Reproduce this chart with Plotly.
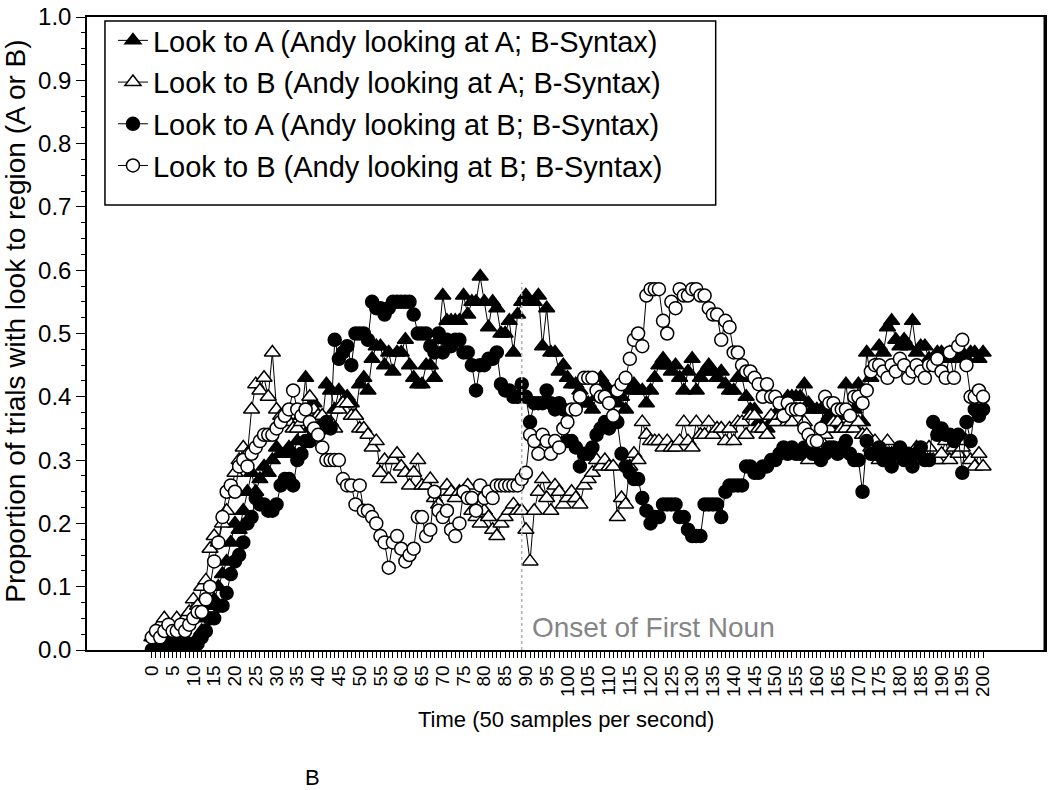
import plotly.graph_objects as go

# ---------------- data ----------------
time = list(range(0, 201))

look_a_andy_a = [
    0.0, 0.0, 0.01, 0.0, 0.01, 0.0, 0.01, 0.01, 0.0, 0.01,
    0.01, 0.02, 0.03, 0.05, 0.07, 0.08, 0.10, 0.12, 0.14, 0.17,
    0.20, 0.19, 0.22, 0.25, 0.28, 0.25, 0.27, 0.29, 0.28, 0.30,
    0.32, 0.31, 0.31, 0.32, 0.31, 0.33, 0.37, 0.43, 0.35, 0.39,
    0.37, 0.36, 0.42, 0.41, 0.38, 0.41, 0.39, 0.40, 0.39, 0.37,
    0.42, 0.43, 0.41, 0.46, 0.48, 0.48, 0.45, 0.47, 0.44, 0.47,
    0.47, 0.49, 0.45, 0.43, 0.42, 0.42, 0.45, 0.45, 0.43, 0.49,
    0.56, 0.52, 0.52, 0.52, 0.52, 0.56, 0.53, 0.55, 0.55, 0.59,
    0.55, 0.51, 0.55, 0.54, 0.50, 0.50, 0.52, 0.47, 0.53, 0.55,
    0.56, 0.55, 0.55, 0.56, 0.48, 0.54, 0.47, 0.47, 0.44, 0.45,
    0.43, 0.42, 0.42, 0.41, 0.39, 0.39, 0.38, 0.40, 0.43, 0.42,
    0.41, 0.40, 0.39, 0.40, 0.38, 0.41, 0.42, 0.41, 0.41, 0.39,
    0.41, 0.43, 0.45, 0.46, 0.45, 0.44, 0.45, 0.43, 0.41, 0.44,
    0.46, 0.41, 0.43, 0.44, 0.45, 0.44, 0.43, 0.44, 0.42, 0.41,
    0.41, 0.43, 0.43, 0.40, 0.38, 0.38, 0.36, 0.35, 0.35, 0.36,
    0.37, 0.38, 0.38, 0.40, 0.40, 0.40, 0.40, 0.42, 0.39, 0.38,
    0.38, 0.38, 0.36, 0.37, 0.35, 0.35, 0.37, 0.42, 0.37, 0.38,
    0.42, 0.36, 0.47, 0.43, 0.45, 0.48, 0.47, 0.51, 0.52, 0.49,
    0.48, 0.49, 0.48, 0.52, 0.47, 0.48, 0.48, 0.46, 0.46, 0.47,
    0.47, 0.46, 0.47, 0.47, 0.46, 0.47, 0.46, 0.47, 0.47, 0.46,
    0.47,
]

look_b_andy_a = [
    0.02, 0.03, 0.04, 0.05, 0.04, 0.04, 0.05, 0.04, 0.05, 0.06,
    0.08, 0.07, 0.10, 0.11, 0.16, 0.18, 0.17, 0.20, 0.22, 0.25,
    0.28, 0.30, 0.32, 0.31, 0.38, 0.42, 0.41, 0.43, 0.40, 0.47,
    0.38, 0.37, 0.37, 0.36, 0.35, 0.35, 0.36, 0.37, 0.40, 0.38,
    0.37, 0.37, 0.35, 0.36, 0.35, 0.38, 0.39, 0.39, 0.37, 0.37,
    0.35, 0.35, 0.34, 0.32, 0.33, 0.28, 0.30, 0.27, 0.30, 0.31,
    0.29, 0.28, 0.26, 0.28, 0.30, 0.26, 0.26, 0.27, 0.24, 0.23,
    0.25, 0.26, 0.25, 0.24, 0.25, 0.25, 0.26, 0.22, 0.21, 0.20,
    0.22, 0.21, 0.19, 0.18, 0.20, 0.21, 0.22, 0.23, 0.22, 0.22,
    0.19, 0.14, 0.22, 0.25, 0.27, 0.24, 0.22, 0.26, 0.25, 0.23,
    0.24, 0.25, 0.24, 0.23, 0.26, 0.27, 0.28, 0.30, 0.29, 0.30,
    0.29, 0.29, 0.21, 0.24, 0.23, 0.29, 0.31, 0.30, 0.36, 0.34,
    0.33, 0.33, 0.33, 0.32, 0.33, 0.32, 0.32, 0.33, 0.36, 0.33,
    0.32, 0.36, 0.34, 0.34, 0.36, 0.34, 0.35, 0.35, 0.33, 0.35,
    0.33, 0.36, 0.36, 0.34, 0.37, 0.37, 0.35, 0.35, 0.34, 0.37,
    0.36, 0.37, 0.37, 0.36, 0.36, 0.38, 0.38, 0.36, 0.30, 0.33,
    0.32, 0.33, 0.34, 0.35, 0.36, 0.36, 0.35, 0.35, 0.36, 0.35,
    0.36, 0.34, 0.34, 0.32, 0.33, 0.30, 0.31, 0.33, 0.31, 0.30,
    0.31, 0.30, 0.30, 0.31, 0.32, 0.31, 0.30, 0.32, 0.30, 0.30,
    0.31, 0.33, 0.30, 0.32, 0.31, 0.32, 0.33, 0.30, 0.29, 0.31,
    0.29,
]

look_a_andy_b = [
    0.0, 0.01, 0.0, 0.01, 0.01, 0.0, 0.01, 0.01, 0.01, 0.0,
    0.01, 0.01, 0.02, 0.03, 0.05, 0.05, 0.07, 0.07, 0.09, 0.12,
    0.14, 0.15, 0.17, 0.20, 0.21, 0.24, 0.23, 0.23, 0.22, 0.22,
    0.23, 0.26, 0.27, 0.27, 0.26, 0.30, 0.31, 0.33, 0.33, 0.34,
    0.35, 0.35, 0.36, 0.35, 0.49, 0.46, 0.47, 0.48, 0.45, 0.50,
    0.50, 0.50, 0.49, 0.55, 0.54, 0.54, 0.53, 0.54, 0.55, 0.55,
    0.55, 0.55, 0.55, 0.53, 0.50, 0.50, 0.50, 0.48, 0.47, 0.50,
    0.47, 0.49, 0.48, 0.49, 0.49, 0.47, 0.47, 0.45, 0.41, 0.45,
    0.45, 0.46, 0.46, 0.47, 0.42, 0.41, 0.41, 0.40, 0.40, 0.42,
    0.40, 0.36, 0.39, 0.39, 0.39, 0.41, 0.39, 0.38, 0.39, 0.38,
    0.33, 0.33, 0.32, 0.29, 0.31, 0.31, 0.32, 0.34, 0.35, 0.36,
    0.35, 0.36, 0.36, 0.31, 0.29, 0.28, 0.27, 0.27, 0.24, 0.22,
    0.20, 0.21, 0.21, 0.23, 0.23, 0.23, 0.23, 0.21, 0.21, 0.19,
    0.18, 0.18, 0.18, 0.23, 0.23, 0.23, 0.23, 0.21, 0.25, 0.26,
    0.26, 0.26, 0.26, 0.29, 0.29, 0.28, 0.28, 0.29, 0.29, 0.30,
    0.30, 0.31, 0.32, 0.31, 0.32, 0.31, 0.31, 0.32, 0.32, 0.31,
    0.31, 0.30, 0.31, 0.32, 0.32, 0.31, 0.32, 0.33, 0.31, 0.30,
    0.30, 0.25, 0.33, 0.31, 0.31, 0.32, 0.30, 0.31, 0.29, 0.31,
    0.32, 0.30, 0.31, 0.29, 0.31, 0.32, 0.30, 0.30, 0.36, 0.34,
    0.35, 0.34, 0.34, 0.33, 0.34, 0.28, 0.36, 0.33, 0.38, 0.37,
    0.38,
]

look_b_andy_b = [
    0.02, 0.03, 0.02, 0.03, 0.04, 0.03, 0.03, 0.04, 0.03, 0.04,
    0.05, 0.06, 0.06, 0.08, 0.10, 0.14, 0.17, 0.21, 0.25, 0.26,
    0.25, 0.29, 0.30, 0.29, 0.31, 0.32, 0.33, 0.34, 0.34, 0.34,
    0.35, 0.36, 0.37, 0.38, 0.41, 0.38, 0.37, 0.38, 0.36, 0.35,
    0.34, 0.32, 0.30, 0.30, 0.30, 0.30, 0.27, 0.26, 0.26, 0.23,
    0.26, 0.22, 0.22, 0.21, 0.20, 0.18, 0.17, 0.13, 0.17, 0.18,
    0.16, 0.14, 0.15, 0.16, 0.21, 0.21, 0.18, 0.19, 0.25, 0.22,
    0.21, 0.22, 0.19, 0.18, 0.20, 0.25, 0.24, 0.24, 0.22, 0.26,
    0.24, 0.25, 0.24, 0.26, 0.26, 0.26, 0.26, 0.26, 0.26, 0.27,
    0.28, 0.34, 0.33, 0.31, 0.34, 0.33, 0.31, 0.33, 0.32, 0.35,
    0.36, 0.38, 0.38, 0.40, 0.43, 0.43, 0.43, 0.41, 0.40, 0.40,
    0.39, 0.37, 0.41, 0.42, 0.43, 0.46, 0.49, 0.50, 0.48, 0.56,
    0.57, 0.57, 0.57, 0.52, 0.50, 0.55, 0.54, 0.57, 0.56, 0.56,
    0.57, 0.57, 0.56, 0.56, 0.54, 0.53, 0.53, 0.49, 0.52, 0.51,
    0.47, 0.47, 0.45, 0.44, 0.44, 0.43, 0.42, 0.40, 0.42, 0.40,
    0.40, 0.39, 0.37, 0.39, 0.38, 0.38, 0.38, 0.35, 0.34, 0.33,
    0.33, 0.35, 0.40, 0.39, 0.39, 0.38, 0.38, 0.38, 0.37, 0.40,
    0.40, 0.39, 0.41, 0.44, 0.45, 0.45, 0.44, 0.43, 0.45, 0.44,
    0.46, 0.45, 0.43, 0.44, 0.45, 0.44, 0.43, 0.45, 0.45, 0.46,
    0.44, 0.43, 0.47, 0.43, 0.48, 0.49, 0.45, 0.40, 0.40, 0.41,
    0.40,
]

series_names = [
    "Look to A (Andy looking at A; B-Syntax)",
    "Look to B (Andy looking at A; B-Syntax)",
    "Look to A (Andy looking at B; B-Syntax)",
    "Look to B (Andy looking at B; B-Syntax)",
]
series_values = [look_a_andy_a, look_b_andy_a, look_a_andy_b, look_b_andy_b]
series_symbols = ["triangle-up", "triangle-up", "circle", "circle"]
series_fills = ["black", "white", "black", "white"]
series_sizes = [14, 14, 13, 13]

x_tick_values = list(range(0, 201))
x_tick_labels = [str(v) if v % 5 == 0 else "" for v in x_tick_values]
y_tick_values = [i / 10 for i in range(0, 11)]
y_tick_labels = ["%.1f" % v for v in y_tick_values]

onset_time = 89
onset_label = "Onset of First Noun"

# ---------------- figure ----------------
FONT = "Liberation Sans, Arial, Helvetica, sans-serif"

fig = go.Figure()
for i, (name, vals, sym, fill, sz) in enumerate(
        zip(series_names, series_values, series_symbols, series_fills,
            series_sizes)):
    fig.add_trace(go.Scatter(
        x=time, y=vals, mode="lines+markers", name=name,
        legendgroup="g%d" % i,
        line=dict(color="black", width=1),
        marker=dict(symbol=sym, size=sz, color=fill,
                    line=dict(color="black", width=1.5)),
    ))

fig.update_layout(
    width=1050, height=790,
    margin=dict(l=87, r=3, t=10, b=140),
    plot_bgcolor="white", paper_bgcolor="white",
    font=dict(family=FONT, color="black"),
    showlegend=True,
    legend=dict(
        x=(113 - 87) / 960, y=(650 - 8) / 640, xanchor="left", yanchor="top",
        bgcolor="rgba(0,0,0,0)", borderwidth=0,
        font=dict(size=29, family=FONT, color="black"),
        tracegroupgap=1,
    ),
    xaxis=dict(
        range=[-15.6, 214.9],
        tickmode="array", tickvals=x_tick_values, ticktext=x_tick_labels,
        tickangle=-90, tickfont=dict(size=19, family=FONT, color="black"),
        ticks="outside", ticklen=6, tickwidth=1, tickcolor="black",
        showline=True, linecolor="black", linewidth=1.5, mirror=True,
        showgrid=False, zeroline=False, ticklabeloverflow="allow",
    ),
    yaxis=dict(
        range=[0, 1],
        tickmode="array", tickvals=y_tick_values, ticktext=y_tick_labels,
        tickfont=dict(size=24, family=FONT, color="black"),
        ticks="outside", ticklen=9, tickwidth=1.2, tickcolor="black",
        minor=dict(tickmode="linear", tick0=0, dtick=0.025, ticks="outside",
                   ticklen=4, tickwidth=1, tickcolor="black", showgrid=False),
        showline=True, linecolor="black", linewidth=1.5, mirror=True,
        showgrid=False, zeroline=False, ticklabeloverflow="allow",
    ),
)

# legend frame
fig.add_shape(type="rect", xref="paper", yref="paper",
              x0=(105 - 87) / 960, x1=(717 - 87) / 960,
              y0=(650 - 200) / 640, y1=(650 - 14) / 640,
              line=dict(color="black", width=1.5), layer="above")
# thicker right frame
fig.add_shape(type="line", xref="paper", yref="paper", x0=1, x1=1, y0=0, y1=1,
              line=dict(color="black", width=3))
# onset marker line
fig.add_shape(type="line", xref="x", yref="y", x0=onset_time, x1=onset_time,
              y0=0, y1=0.58, line=dict(color="#b0b0b0", width=1.5, dash="dot"),
              layer="above")

fig.add_annotation(x=onset_time + 2, y=0.035, xref="x", yref="y",
                   text=onset_label, showarrow=False, xanchor="left",
                   yanchor="middle",
                   font=dict(size=28, family=FONT, color="#858585"))

# axis titles
fig.add_annotation(x=0.5, y=(650 - 720) / 640, xref="paper", yref="paper",
                   text="Time (50 samples per second)", showarrow=False,
                   xanchor="center", yanchor="middle",
                   font=dict(size=22, family=FONT, color="black"))
fig.add_annotation(x=(15 - 87) / 960, y=(650 - 318) / 640, xref="paper",
                   yref="paper",
                   text="Proportion of trials with look to region (A or B)",
                   textangle=-90, showarrow=False,
                   xanchor="center", yanchor="middle",
                   font=dict(size=28, family=FONT, color="black"))
fig.add_annotation(x=(313 - 87) / 960, y=(650 - 779) / 640, xref="paper",
                   yref="paper", text="B", showarrow=False,
                   xanchor="center", yanchor="middle",
                   font=dict(size=22, family=FONT, color="black"))

fig.write_html("out.html",
               config={"displayModeBar": False},
               post_script="document.body.style.margin='0px';"
                           "document.body.style.overflow='hidden';")
